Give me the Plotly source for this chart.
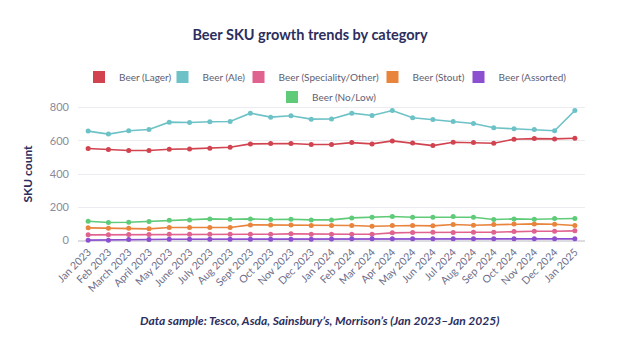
import plotly.graph_objects as go

months = ["Jan 2023", "Feb 2023", "March 2023", "April 2023", "May 2023", "June 2023",
          "July 2023", "Aug 2023", "Sept 2023", "Oct 2023", "Nov 2023", "Dec 2023",
          "Jan 2024", "Feb 2024", "Mar 2024", "Apr 2024", "May 2024", "Jun 2024",
          "Jul 2024", "Aug 2024", "Sep 2024", "Oct 2024", "Nov 2024", "Dec 2024", "Jan 2025"]

lager = [553, 547, 541, 541, 549, 551, 555, 561, 581, 583, 583, 577,
         577, 589, 581, 599, 587, 571, 591, 589, 585, 609, 613, 611, 615]
ale = [658, 640, 660, 668, 712, 710, 714, 716, 766, 742, 750, 730,
       731, 766, 752, 782, 738, 728, 716, 704, 678, 672, 668, 660, 782]
speciality = [34, 34, 36, 36, 38, 38, 38, 38, 38, 38, 40, 38,
              37, 38, 38, 46, 48, 50, 48, 50, 50, 54, 56, 56, 58]
stout = [76, 74, 74, 70, 78, 78, 78, 78, 94, 94, 94, 90,
         91, 90, 86, 90, 90, 88, 96, 92, 96, 100, 100, 98, 90]
assorted = [2, 2, 6, 6, 8, 8, 8, 8, 8, 8, 8, 8,
            9, 10, 10, 10, 10, 10, 10, 10, 10, 10, 10, 10, 10]
nolow = [116, 108, 110, 114, 122, 124, 130, 128, 130, 126, 128, 124,
         124, 136, 140, 144, 140, 140, 144, 140, 126, 130, 128, 132, 132]

series_names = ["Beer (Lager)", "Beer (Ale)", "Beer (Speciality/Other)", "Beer (Stout)",
                "Beer (Assorted)", "Beer (No/Low)"]
series_values = [lager, ale, speciality, stout, assorted, nolow]
colors = ["#d1434f", "#6cc2c6", "#e0628f", "#e8843c", "#8b4fd0", "#5fcb78"]

# legend entry placement (left px, centre-y px in the 620x346 canvas)
legend_left = [79, 162.5, 238.5, 372.5, 458.5, 272]
legend_cy = [77, 77, 77, 77, 77, 97]

FONT = "Lato"
NAVY = "#2c2e5e"
W, H = 620, 346

fig = go.Figure()
for name, vals, c in zip(series_names, series_values, colors):
    fig.add_trace(go.Scatter(
        x=months, y=vals, mode="lines+markers", name=name,
        line=dict(color=c, width=1.6), marker=dict(color=c, size=5),
        showlegend=False, cliponaxis=False,
    ))

legend_layout = {}
for i, (name, c) in enumerate(zip(series_names, colors)):
    lid = "legend" if i == 0 else f"legend{i + 1}"
    fig.add_trace(go.Scatter(
        x=[None], y=[None], mode="markers", name=name, legend=lid,
        marker=dict(color=c, size=12, symbol="square"),
    ))
    legend_layout[lid] = dict(
        orientation="h", xanchor="left", yanchor="middle",
        xref="container", yref="container",
        x=legend_left[i] / W, y=1 - legend_cy[i] / H,
        font=dict(size=10, color="#5e5e72"), itemwidth=30,
        bgcolor="rgba(0,0,0,0)",
    )

fig.update_layout(
    width=W, height=H,
    margin=dict(l=78, r=35, t=105, b=103, autoexpand=False),
    paper_bgcolor="white", plot_bgcolor="white",
    font=dict(family=FONT, color="#6e6e84", size=11),
    title=dict(text="<b>Beer SKU growth trends by category</b>", x=0.5, xanchor="center",
               y=0.9, yanchor="middle", yref="container",
               font=dict(size=14.5, color=NAVY, family=FONT)),
    hovermode=False,
    **legend_layout,
)
fig.update_xaxes(
    type="category", range=[-0.5, 24.5], tickangle=-45, showgrid=False,
    showline=False, ticks="", tickfont=dict(size=10.5, color="#6e6e8a"),
)
fig.update_yaxes(
    range=[-15, 815], tickvals=[0, 200, 400, 600, 800], showgrid=True,
    gridcolor="#ececf0", gridwidth=1, zeroline=True, zerolinecolor="#dcdce2",
    ticks="", ticklabelstandoff=8, tickfont=dict(size=11, color="#8a8a9a"),
    title=dict(text="<b>SKU count</b>", font=dict(size=12, color=NAVY), standoff=14),
)
fig.add_annotation(
    text="<b><i>Data sample: Tesco, Asda, Sainsbury’s, Morrison’s (Jan 2023–Jan 2025)</i></b>",
    xref="paper", yref="paper", x=0.477, y=-0.56, xanchor="center", yanchor="middle",
    showarrow=False, font=dict(size=12, color=NAVY, family=FONT),
)
fig.write_html("out.html")
